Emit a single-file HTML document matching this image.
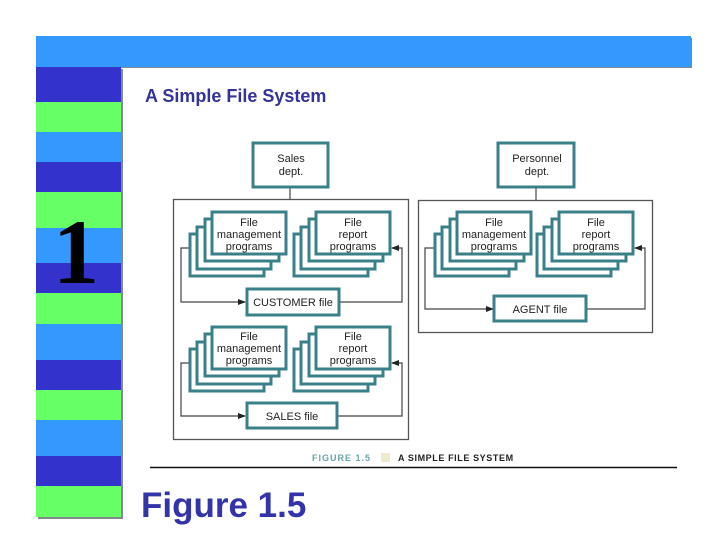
<!DOCTYPE html>
<html><head><meta charset="utf-8"><style>
html,body{margin:0;padding:0;background:#fff;}
body{width:720px;height:540px;position:relative;overflow:hidden;font-family:"Liberation Sans",sans-serif;}
</style></head><body>
<svg width="720" height="540" viewBox="0 0 720 540" xmlns="http://www.w3.org/2000/svg" style="position:absolute;left:0;top:0">
<rect x="38" y="38" width="654" height="30" fill="#808890"/>
<rect x="38" y="69" width="85" height="450" fill="#808890"/>
<rect x="36" y="36" width="655" height="31" fill="#3399ff"/>
<g>
<rect x="36" y="67" width="85" height="35" fill="#3333cc"/>
<rect x="36" y="102" width="85" height="30" fill="#66ff66"/>
<rect x="36" y="132" width="85" height="30" fill="#3399ff"/>
<rect x="36" y="162" width="85" height="30" fill="#3333cc"/>
<rect x="36" y="192" width="85" height="36" fill="#66ff66"/>
<rect x="36" y="228" width="85" height="35" fill="#3399ff"/>
<rect x="36" y="263" width="85" height="30" fill="#3333cc"/>
<rect x="36" y="293" width="85" height="31" fill="#66ff66"/>
<rect x="36" y="324" width="85" height="36" fill="#3399ff"/>
<rect x="36" y="360" width="85" height="30" fill="#3333cc"/>
<rect x="36" y="390" width="85" height="30" fill="#66ff66"/>
<rect x="36" y="420" width="85" height="36" fill="#3399ff"/>
<rect x="36" y="456" width="85" height="30" fill="#3333cc"/>
<rect x="36" y="486" width="85" height="31" fill="#66ff66"/>
</g>
<text x="76" y="283" text-anchor="middle" font-family="Liberation Serif, serif" font-weight="bold" font-size="92" fill="#000">1</text>
<text x="145" y="102" font-family="Liberation Sans, sans-serif" font-weight="bold" font-size="18" fill="#333399">A Simple File System</text>
<text x="141" y="517" font-family="Liberation Sans, sans-serif" font-weight="bold" font-size="35" fill="#3333aa">Figure 1.5</text>

<defs>
<marker id="ar" markerWidth="8" markerHeight="8" refX="7" refY="4" orient="auto" markerUnits="userSpaceOnUse">
<path d="M0,1 L8,4 L0,7 z" fill="#222"/>
</marker>
<g id="stk">
<rect x="-22" y="22" width="74" height="42" fill="#fff" stroke="#3a8089" stroke-width="3"/>
<rect x="-15" y="15" width="74" height="42" fill="#fff" stroke="#3a8089" stroke-width="3"/>
<rect x="-7" y="7" width="74" height="42" fill="#fff" stroke="#3a8089" stroke-width="3"/>
<rect x="0" y="0" width="74" height="42" fill="#fff" stroke="#3a8089" stroke-width="3"/>
</g>
</defs>

<g font-family="Liberation Sans, sans-serif" font-size="11" fill="#222" text-anchor="middle">
<line x1="290" y1="187" x2="290" y2="199" stroke="#555" stroke-width="1.3"/>
<rect x="253" y="143" width="75" height="44" fill="#fff" stroke="#3a8089" stroke-width="3"/>
<text x="291" y="162">Sales</text><text x="291" y="175">dept.</text>
<rect x="173.5" y="199.5" width="235" height="240" fill="none" stroke="#555" stroke-width="1.3"/>

<polyline points="190,248 181,248 181,302 245,302" fill="none" stroke="#444" stroke-width="1.2" marker-end="url(#ar)"/>
<polyline points="340,302 402,302 402,248 392,248" fill="none" stroke="#444" stroke-width="1.2" marker-end="url(#ar)"/>
<use href="#stk" x="212" y="212"/>
<use href="#stk" x="316" y="212"/>
<text x="249" y="226">File</text><text x="249" y="238">management</text><text x="249" y="250">programs</text>
<text x="353" y="226">File</text><text x="353" y="238">report</text><text x="353" y="250">programs</text>
<rect x="247" y="289" width="92" height="26" fill="#fff" stroke="#3a8089" stroke-width="3"/>
<text x="293" y="306">CUSTOMER file</text>

<polyline points="190,363 181,363 181,416 245,416" fill="none" stroke="#444" stroke-width="1.2" marker-end="url(#ar)"/>
<polyline points="338,416 402,416 402,363 392,363" fill="none" stroke="#444" stroke-width="1.2" marker-end="url(#ar)"/>
<use href="#stk" x="212" y="327"/>
<use href="#stk" x="316" y="327"/>
<text x="249" y="340">File</text><text x="249" y="352">management</text><text x="249" y="364">programs</text>
<text x="353" y="340">File</text><text x="353" y="352">report</text><text x="353" y="364">programs</text>
<rect x="247" y="403" width="90" height="25" fill="#fff" stroke="#3a8089" stroke-width="3"/>
<text x="292" y="420">SALES file</text>

<line x1="536" y1="187" x2="536" y2="200" stroke="#555" stroke-width="1.3"/>
<rect x="498" y="143" width="76" height="44" fill="#fff" stroke="#3a8089" stroke-width="3"/>
<text x="537" y="162">Personnel</text><text x="537" y="175">dept.</text>
<rect x="418.5" y="200.5" width="234" height="132" fill="none" stroke="#555" stroke-width="1.3"/>
<polyline points="436,248 425,248 425,309 493,309" fill="none" stroke="#444" stroke-width="1.2" marker-end="url(#ar)"/>
<polyline points="587,309 645,309 645,248 635,248" fill="none" stroke="#444" stroke-width="1.2" marker-end="url(#ar)"/>
<use href="#stk" x="457" y="212"/>
<use href="#stk" x="559" y="212"/>
<text x="494" y="226">File</text><text x="494" y="238">management</text><text x="494" y="250">programs</text>
<text x="596" y="226">File</text><text x="596" y="238">report</text><text x="596" y="250">programs</text>
<rect x="494" y="296" width="92" height="25" fill="#fff" stroke="#3a8089" stroke-width="3"/>
<text x="540" y="313">AGENT file</text>
</g>

<text x="312" y="461" font-family="Liberation Sans, sans-serif" font-weight="bold" font-size="9" fill="#6aa3a8" letter-spacing="1">FIGURE 1.5</text>
<rect x="381" y="453" width="9" height="9" fill="#eeeacc"/>
<text x="398" y="461" font-family="Liberation Sans, sans-serif" font-weight="bold" font-size="9" fill="#222" letter-spacing="0.6">A SIMPLE FILE SYSTEM</text>
<line x1="150" y1="467.5" x2="677" y2="467.5" stroke="#111" stroke-width="1.6"/>
</svg>
</body></html>
